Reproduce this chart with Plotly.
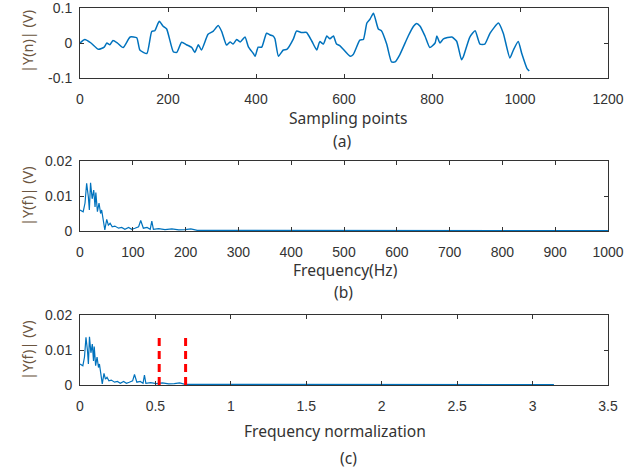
import numpy as np
import plotly.graph_objects as go

# ---- data ----
# (a) time-domain signal
sample_idx = [0, 11, 25, 42, 55, 61, 68, 75, 85, 98, 114, 129, 136, 152, 163, 170, 180, 189, 197,
              212, 220, 231, 242, 254, 261, 269, 276, 291, 303, 314, 322, 333, 341, 348, 356, 364,
              375, 383, 394, 398, 405, 413, 424, 432, 439, 443, 451, 462, 470, 485, 492, 504, 515,
              527, 538, 545, 553, 561, 568, 576, 583, 591, 614, 621, 636, 644, 652, 659, 667, 678,
              685, 697, 708, 716, 727, 746, 758, 765, 773, 784, 795, 807, 811, 818, 826, 845, 856,
              867, 871, 886, 898, 909, 920, 932, 951, 962, 977, 985, 996, 1004, 1016, 1021]
signal_v = [0.0, 0.01, 0.0, -0.018, -0.012, 0.0, -0.005, 0.007, 0.0, -0.013, 0.017, 0.015, -0.02,
            -0.03, 0.033, 0.035, 0.062, 0.048, 0.04, -0.025, -0.027, 0.002, -0.005, -0.013, -0.027,
            -0.005, -0.02, 0.025, 0.034, 0.05, 0.033, -0.006, 0.003, -0.003, 0.01, 0.003, 0.017,
            -0.012, -0.03, -0.038, -0.012, -0.012, 0.028, 0.023, 0.02, 0.012, -0.038, -0.02, -0.018,
            0.012, 0.034, 0.03, 0.03, 0.005, -0.02, 0.004, -0.003, 0.02, 0.012, 0.02, -0.003, -0.008,
            -0.038, -0.033, 0.008, 0.01, 0.057, 0.068, 0.085, 0.04, 0.035, -0.003, -0.054, -0.054,
            -0.033, 0.02, 0.048, 0.056, 0.048, 0.02, -0.013, 0.0, 0.02, 0.0, 0.012, 0.017, 0.005,
            -0.048, -0.04, 0.017, 0.035, -0.003, -0.003, 0.028, 0.057, 0.028, -0.043, -0.02, 0.004,
            -0.03, -0.073, -0.08]

# (b) amplitude spectrum
freq_hz = [0, 6, 9.5, 12.6, 15.8, 17.7, 20, 23, 26, 28.5, 30, 33, 36, 39, 41, 44, 47, 50.6, 53.7,
           57, 61, 66, 73, 79, 85, 92, 98, 104, 111, 115, 120, 127, 133, 136, 139, 149, 161, 174,
           187, 199, 210, 222, 240, 270, 300, 370, 380, 450, 520, 600, 700, 800, 900, 1000]
amp_v = [0.006, 0.0055, 0.008, 0.0136, 0.0098, 0.006, 0.0138, 0.0092, 0.0117, 0.0069, 0.011,
         0.0055, 0.008, 0.005, 0.006, 0.0036, 0.0003, 0.0033, 0.0017, 0.0022, 0.0012, 0.0014,
         0.0008, 0.001, 0.0005, 0.001, 0.0005, 0.0008, 0.0012, 0.003, 0.0008, 0.001, 0.0005,
         0.0028, 0.0005, 0.0007, 0.0004, 0.0006, 0.0003, 0.0004, 0.0006, 0.0002, 0.0002, 0.0001,
         0.0001, 0.0003, 0.0001, 0.0001, 0.0001, 0.0001, 0.0001, 0.0001, 0.0001, 0.0001]

# (c) band markers (normalized frequency)
band_edges = [0.525, 0.70]
band_height = 0.0135

x_ticks_a = [0, 200, 400, 600, 800, 1000, 1200]
x_ticks_b = [0, 100, 200, 300, 400, 500, 600, 700, 800, 900, 1000]
x_ticks_c = [0, 0.5, 1, 1.5, 2, 2.5, 3, 3.5]
x_ticklabels_c = ["0", "0.5", "1", "1.5", "2", "2.5", "3", "3.5"]

norm_freq = np.array(freq_hz) / 1000.0 * np.pi

W, H = 639, 468
BLUE = "#0072BD"
AX = "#333333"

fig = go.Figure()
fig.add_trace(go.Scatter(x=sample_idx, y=signal_v, mode="lines",
                         line=dict(color=BLUE, width=1.5, shape="spline", smoothing=0.5),
                         xaxis="x", yaxis="y", showlegend=False))
fig.add_trace(go.Scatter(x=freq_hz, y=amp_v, mode="lines", line=dict(color=BLUE, width=1.2),
                         xaxis="x2", yaxis="y2", showlegend=False))
fig.add_trace(go.Scatter(x=norm_freq, y=amp_v, mode="lines", line=dict(color=BLUE, width=1.2),
                         xaxis="x3", yaxis="y3", showlegend=False))
for e in band_edges:
    fig.add_trace(go.Scatter(x=[e, e], y=[0, band_height], mode="lines",
                             line=dict(color="#FF0000", width=3, dash="8px,5px"),
                             xaxis="x3", yaxis="y3", showlegend=False))

def px_x(p):
    return p / W

def px_y(p):
    return 1 - p / H

tickfont = dict(family="Liberation Sans, Arial", size=14, color="#333333")
common_x = dict(showline=True, linecolor=AX, linewidth=1, mirror="ticks", ticks="inside",
                ticklen=4, tickcolor=AX, showgrid=False, zeroline=False, tickfont=tickfont,
                ticklabelstandoff=8, automargin=False, ticklabeloverflow="allow",
                domain=[px_x(80), px_x(608)])
common_y = dict(showline=True, linecolor=AX, linewidth=1, mirror="ticks", ticks="inside",
                ticklen=4, tickcolor=AX, showgrid=False, zeroline=False, tickfont=tickfont,
                ticklabelstandoff=4, automargin=False, ticklabeloverflow="allow")

layout = dict(
    width=W, height=H, margin=dict(l=0, r=0, t=0, b=0, autoexpand=False),
    paper_bgcolor="white", plot_bgcolor="white",
    xaxis=dict(common_x, range=[0, 1200], tickvals=x_ticks_a, anchor="y"),
    yaxis=dict(common_y, range=[-0.1, 0.1], tickvals=[-0.1, 0, 0.1], ticktext=["-0.1", "0", "0.1"],
               domain=[px_y(78), px_y(8)], anchor="x"),
    xaxis2=dict(common_x, range=[0, 1000], tickvals=x_ticks_b, anchor="y2"),
    yaxis2=dict(common_y, range=[0, 0.02], tickvals=[0, 0.01, 0.02], ticktext=["0", "0.01", "0.02"],
                domain=[px_y(231), px_y(161)], anchor="x2"),
    xaxis3=dict(common_x, range=[0, 3.5], tickvals=x_ticks_c, ticktext=x_ticklabels_c, anchor="y3"),
    yaxis3=dict(common_y, range=[0, 0.02], tickvals=[0, 0.01, 0.02], ticktext=["0", "0.01", "0.02"],
                domain=[px_y(385), px_y(315)], anchor="x3"),
)
fig.update_layout(**layout)

titlefont = dict(family="Noto Sans, Open Sans", size=15.6, color="#333333")
ylabfont = dict(family="Noto Sans, Open Sans", size=14.5, color="#6b5540")
annos = [
    ("Sampling points", 348, 118, 0, titlefont),
    ("(a)", 342, 141, 0, titlefont),
    ("Frequency(Hz)", 345, 269.5, 0, titlefont),
    ("(b)", 343, 292, 0, titlefont),
    ("Frequency normalization", 335, 431, 0, titlefont),
    ("(c)", 348, 458, 0, titlefont),
    ("|Y(n)| (V)", 27, 42, -90, ylabfont),
    ("|Y(f)| (V)", 27, 196, -90, ylabfont),
    ("|Y(f)| (V)", 27, 350, -90, ylabfont),
]
for text, x, y, ang, f in annos:
    fig.add_annotation(text=text, x=px_x(x), y=px_y(y), xref="paper", yref="paper",
                       xanchor="center", yanchor="middle", showarrow=False, textangle=ang, font=f)

# remove the browser's default 8px page margin so the figure fills the window exactly
fig.write_html("out.html", config={"displayModeBar": False},
               post_script="document.body.style.margin='0';document.body.style.overflow='hidden';")
